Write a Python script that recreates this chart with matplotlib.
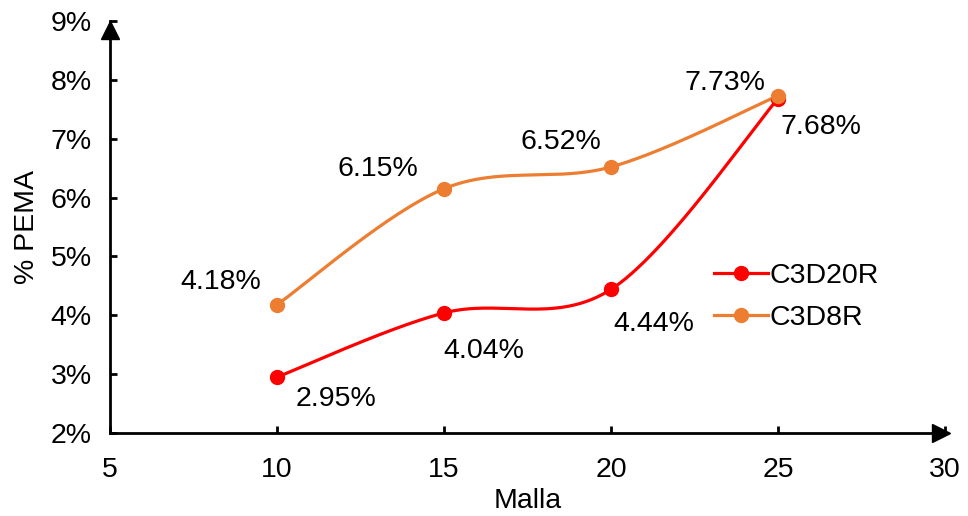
import numpy as np
import matplotlib
matplotlib.use("Agg")
import matplotlib.pyplot as plt
from matplotlib.ticker import PercentFormatter

plt.rcParams['font.family'] = ['Liberation Sans', 'DejaVu Sans']

malla = [10, 15, 20, 25]
c3d20r = [2.95, 4.04, 4.44, 7.68]
c3d8r = [4.18, 6.15, 6.52, 7.73]
series_names = ["C3D20R", "C3D8R"]
colors = ["#FF0000", "#ED7D31"]

FS = 20.5


def smooth(xs, ys, n=60):
    """Cubic Bezier smoothing through every point (spreadsheet style)."""
    pts = np.column_stack([xs, ys]).astype(float)
    ext = np.vstack([pts[0], pts, pts[-1]])
    out = []
    t = np.linspace(0, 1, n)[:, None]
    for i in range(1, len(ext) - 2):
        p0, p1, p2, p3 = ext[i - 1], ext[i], ext[i + 1], ext[i + 2]
        c1 = p1 + (p2 - p0) / 6.0
        c2 = p2 - (p3 - p1) / 6.0
        seg = ((1 - t) ** 3) * p1 + 3 * ((1 - t) ** 2) * t * c1 + 3 * (1 - t) * t ** 2 * c2 + t ** 3 * p2
        out.append(seg if i == 1 else seg[1:])
    seg = np.vstack(out)
    return seg[:, 0], seg[:, 1]


fig = plt.figure(figsize=(9.68, 5.16), dpi=100)
ax = fig.add_axes([110 / 968, 1 - 433 / 516, 835 / 968, 412 / 516])

for vals, name, col in zip([c3d20r, c3d8r], series_names, colors):
    sx, sy = smooth(malla, vals)
    ax.plot(sx, sy, color=col, lw=2.3, zorder=3)
    ax.plot(malla, vals, 'o', color=col, ms=10, zorder=4)
    ax.plot([], [], '-o', color=col, lw=2.3, ms=10, label=name)

# data labels (pixel offsets from each point)
red_off = [(59, -22), (40, -38), (43, -35), (43, -28)]
orange_off = [(-56, 23), (-66, 20), (-50, 25), (-53, 13)]
for vals, offs in [(c3d20r, red_off), (c3d8r, orange_off)]:
    for x, v, (dx, dy) in zip(malla, vals, offs):
        ax.annotate(f"{v:.2f}%", (x, v), xytext=(dx, dy), textcoords='offset pixels',
                    ha='center', va='center', fontsize=FS)

ax.set_xlim(5, 30)
ax.set_ylim(2, 9)
ax.set_xticks([5, 10, 15, 20, 25, 30])
ax.set_yticks(range(2, 10))
ax.yaxis.set_major_formatter(PercentFormatter(decimals=0))

for s in ['top', 'right']:
    ax.spines[s].set_visible(False)
for s in ['left', 'bottom']:
    ax.spines[s].set_linewidth(2)
ax.tick_params(direction='in', length=5, width=2, labelsize=FS)
ax.tick_params(axis='y', pad=13)
ax.tick_params(axis='x', pad=17)

# arrow heads on the axes
ax.plot([0], [1.0 - 9 / 412], marker='^', ms=13, color='black', transform=ax.transAxes, clip_on=False)
ax.plot([1.0 - 4 / 835], [0], marker='>', ms=13, color='black', transform=ax.transAxes, clip_on=False)

ax.set_xlabel("Malla", fontsize=FS, labelpad=4)
ax.set_ylabel("% PEMA", fontsize=FS, labelpad=8)

ax.legend(loc='upper left', bbox_to_anchor=(0.71, 0.44), frameon=False, fontsize=FS,
          handlelength=1.9, handletextpad=0.05, labelspacing=0.55, borderaxespad=0)

fig.savefig("out.png", dpi=100)
